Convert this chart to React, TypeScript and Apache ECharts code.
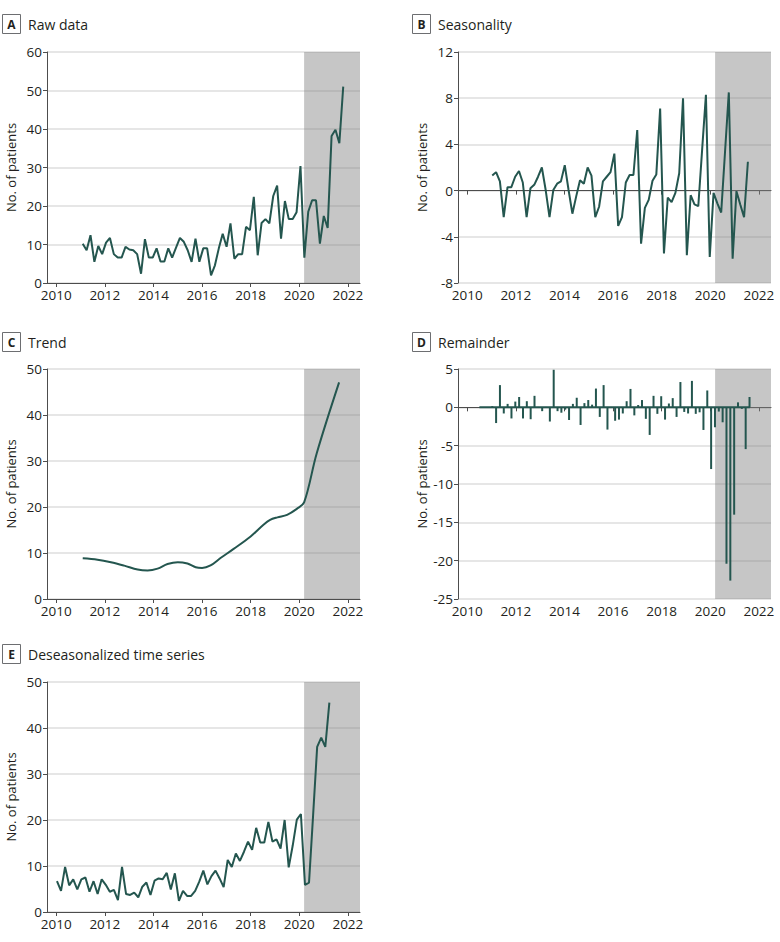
import React, { useEffect, useRef } from "react";
import * as echarts from "echarts";

// ---------- data ----------
const yearTicks = [2010, 2012, 2014, 2016, 2018, 2020, 2022];
const shadeStart = 2020.2;
const shadeEnd = 2022.5;

// A: raw data (roughly every 0.16 year starting 2011.09)
const rawStart = 2011.09;
const rawStep = 0.16;
const rawValues = [
  10.2, 8.5, 12.4, 5.5, 9.6, 7.5, 10.5, 11.7, 7.5, 6.6, 6.6, 9.4, 8.7, 8.5, 7.5, 2.4,
  11.4, 6.6, 6.6, 9.0, 5.6, 5.6, 9.0, 6.6, 9.2, 11.7, 10.7, 8.5, 5.5, 11.5, 5.5, 9.0,
  9.0, 2.0, 4.6, 9.0, 12.8, 9.4, 15.5, 6.3, 7.5, 7.5, 14.6, 13.7, 22.4, 7.2, 15.6, 16.6,
  15.5, 22.6, 25.3, 11.5, 21.3, 16.6, 16.6, 18.4, 30.4, 6.6, 18.5, 21.5, 21.5, 10.2, 17.4,
  14.3, 38.2, 39.8, 36.3, 51.0,
];

// B: seasonality
const seasStart = 2011.03;
const seasStep = 0.157;
const seasValues = [
  1.3, 1.6, 0.8, -2.3, 0.3, 0.3, 1.2, 1.7, 0.7, -2.3, 0.2, 0.5, 1.2, 2.0, 0.05, -2.3,
  0.05, 0.6, 0.8, 2.2, 0.05, -2.0, -0.5, 0.9, 0.6, 2.0, 1.3, -2.3, -1.4, 0.8, 1.2, 1.6,
  3.2, -3.05, -2.3, 0.7, 1.35, 1.35, 5.25, -4.6, -1.5, -0.8, 0.85, 1.4, 7.1, -5.45, -0.6,
  -1.0, -0.2, 1.5, 8.0, -5.6, -0.4, -1.2, -1.35, 3.5, 8.3, -5.75, -0.2, -1.1, -1.9, 3.3,
  8.5, -5.9, -0.05, -1.2, -2.3, 2.5,
];

// C: trend
const trendYears = [
  2011.09, 2011.7, 2012.25, 2012.8, 2013.35, 2013.76, 2014.17, 2014.58, 2015.0, 2015.4,
  2015.74, 2016.0, 2016.35, 2016.76, 2017.3, 2018.0, 2018.54, 2018.8, 2019.1, 2019.5,
  2019.9, 2020.2, 2020.72, 2021.64,
];
const trendValues = [
  8.85, 8.55, 8.0, 7.25, 6.4, 6.2, 6.6, 7.6, 8.0, 7.7, 6.9, 6.75, 7.3, 8.9, 10.9, 13.6,
  16.2, 17.2, 17.75, 18.3, 19.6, 21.0, 31.7, 47.1,
];

// D: remainder
const remStart = 2011.03;
const remStep = 0.158;
const remValues = [
  0.15, -2.05, 2.9, -0.8, 0.45, -1.45, 0.75, 1.35, -1.45, 0.8, -1.55, 1.5, 0.05, -0.5,
  0.05, -1.85, 4.9, -0.5, -0.7, -0.3, -1.65, 0.45, 1.25, -2.3, 0.55, 0.95, 0.35, 2.45,
  -1.25, 2.9, -2.9, 0.05, -1.75, -1.6, -0.8, 0.8, 2.4, -1.05, 0.3, 0.95, -1.5, -3.6, 1.5,
  -0.85, 1.45, -1.6, 0.5, 1.2, -1.25, 3.3, -0.6, -0.8, 3.45, -0.85, -0.65, -2.95, 2.2,
  -8.05, -2.6, -0.55, -1.95, -20.4, -22.6, -14.0, 0.65, -0.2, -5.45, 1.35,
];
const remBaselineYears = [2010.5, 2021.63];

// E: deseasonalized
const desStart = 2010.03;
const desStep = 0.1673;
const desValues = [
  6.7, 4.6, 9.8, 5.8, 7.1, 4.9, 7.1, 7.5, 4.4, 6.7, 3.9, 7.1, 5.9, 4.4, 4.8, 2.6, 9.8,
  3.9, 3.7, 4.2, 3.2, 5.5, 6.4, 3.7, 6.8, 7.3, 7.1, 8.5, 4.9, 8.4, 2.4, 4.6, 3.5, 3.5,
  4.6, 6.6, 9.0, 6.0, 7.8, 9.0, 7.3, 5.4, 11.3, 9.8, 12.7, 11.1, 13.1, 15.3, 13.5, 18.3,
  15.1, 15.1, 19.6, 15.3, 15.8, 13.8, 20.0, 9.7, 14.5, 20.1, 21.3, 5.9, 6.4, 21.0, 35.9,
  37.9, 35.9, 45.5,
];

const panelLetters = ["A", "B", "C", "D", "E"];
const panelTitles = [
  "Raw data",
  "Seasonality",
  "Trend",
  "Remainder",
  "Deseasonalized time series",
];
const yAxisName = "No. of patients";

// ---------- styling ----------
const FONT = '"Open Sans", "Noto Sans", sans-serif';
const LINE = "#24564f";
const AXIS = "#4d4d4d";
const TEXT = "#231f20";

const grids = [
  { left: 47, top: 52, width: 313, height: 231 },
  { left: 458, top: 52, width: 313, height: 231 },
  { left: 47, top: 369, width: 313, height: 230 },
  { left: 458, top: 369, width: 313, height: 230 },
  { left: 47, top: 682, width: 313, height: 230 },
];
const titlePos = [
  { x: 2, y: 24 },
  { x: 412, y: 24 },
  { x: 2, y: 342 },
  { x: 412, y: 342 },
  { x: 2, y: 654 },
];
const yRanges = [
  { min: 0, max: 60, interval: 10 },
  { min: -8, max: 12, interval: 4 },
  { min: 0, max: 50, interval: 10 },
  { min: -25, max: 5, interval: 5 },
  { min: 0, max: 50, interval: 10 },
];

const series = (start: number, step: number, vals: number[]) =>
  vals.map((v, i) => [start + i * step, v]);

function xAxis(gridIndex: number) {
  return {
    type: "value",
    gridIndex,
    min: 2009.62,
    max: shadeEnd,
    axisLine: { show: true, lineStyle: { color: AXIS, width: 1 } },
    axisTick: {
      show: true,
      length: 4,
      customValues: yearTicks,
      lineStyle: { color: AXIS },
    },
    axisLabel: {
      customValues: yearTicks,
      formatter: (v: number) => String(Math.round(v)),
      fontSize: 13.5,
      color: TEXT,
      fontFamily: FONT,
      margin: 5,
    },
    splitLine: { show: false },
  };
}

function yAxis(gridIndex: number) {
  const r = yRanges[gridIndex];
  return {
    type: "value",
    gridIndex,
    min: r.min,
    max: r.max,
    interval: r.interval,
    name: yAxisName,
    nameLocation: "middle",
    nameGap: 30,
    nameTextStyle: { fontSize: 13, color: TEXT, fontFamily: FONT },
    axisLine: { show: true, lineStyle: { color: AXIS, width: 1 } },
    axisTick: { show: true, length: 4, lineStyle: { color: AXIS } },
    axisLabel: { fontSize: 13.5, color: TEXT, fontFamily: FONT, margin: 5 },
    splitLine: { show: true, lineStyle: { color: "#dedede", width: 1.5 } },
  };
}

const shade = {
  silent: true,
  itemStyle: { color: "rgba(128,128,128,0.45)" },
  data: [[{ xAxis: shadeStart }, { xAxis: shadeEnd }]],
};

function lineSeries(idx: number, data: number[][], smooth: boolean | number = false) {
  return {
    type: "line",
    xAxisIndex: idx,
    yAxisIndex: idx,
    data,
    showSymbol: false,
    smooth,
    lineStyle: { color: LINE, width: 2 },
    markArea: shade,
    z: 3,
  };
}

export default function App() {
  const ref = useRef<HTMLDivElement>(null);

  useEffect(() => {
    if (!ref.current) return;
    const chart = echarts.init(ref.current, null, { renderer: "svg" });

    const graphics: any[] = [];
    panelLetters.forEach((letter, i) => {
      const p = titlePos[i];
      graphics.push({
        type: "rect",
        shape: { x: p.x + 0.5, y: p.y - 9.5, width: 18, height: 19 },
        style: { fill: "#fff", stroke: "#6d6e71", lineWidth: 1 },
      });
      graphics.push({
        type: "text",
        x: p.x + 9.5,
        y: p.y,
        style: {
          text: letter,
          fontFamily: FONT,
          fontWeight: "bold",
          fontSize: 12,
          fill: TEXT,
          align: "center",
          verticalAlign: "middle",
        },
      });
      graphics.push({
        type: "text",
        x: p.x + 26,
        y: p.y,
        style: {
          text: panelTitles[i],
          fontFamily: FONT,
          fontSize: 14,
          fill: TEXT,
          align: "left",
          verticalAlign: "middle",
        },
      });
    });

    const option: any = {
      animation: false,
      backgroundColor: "#ffffff",
      grid: grids.map((g) => ({ ...g, containLabel: false })),
      xAxis: grids.map((_, i) => xAxis(i)),
      yAxis: grids.map((_, i) => yAxis(i)),
      graphic: graphics,
      series: [
        lineSeries(0, series(rawStart, rawStep, rawValues)),
        lineSeries(1, series(seasStart, seasStep, seasValues)),
        lineSeries(
          2,
          trendYears.map((t, i) => [t, trendValues[i]]),
          0.35
        ),
        {
          type: "bar",
          xAxisIndex: 3,
          yAxisIndex: 3,
          data: series(remStart, remStep, remValues),
          barWidth: 2,
          itemStyle: { color: LINE },
          markArea: shade,
          z: 3,
        },
        {
          type: "line",
          xAxisIndex: 3,
          yAxisIndex: 3,
          data: remBaselineYears.map((t) => [t, 0]),
          showSymbol: false,
          lineStyle: { color: LINE, width: 2 },
          z: 4,
        },
        lineSeries(4, series(desStart, desStep, desValues)),
      ],
    };
    chart.setOption(option);
    return () => chart.dispose();
  }, []);

  return (
    <div
      ref={ref}
      style={{ position: "absolute", left: 0, top: 0, width: 780, height: 942 }}
    />
  );
}
